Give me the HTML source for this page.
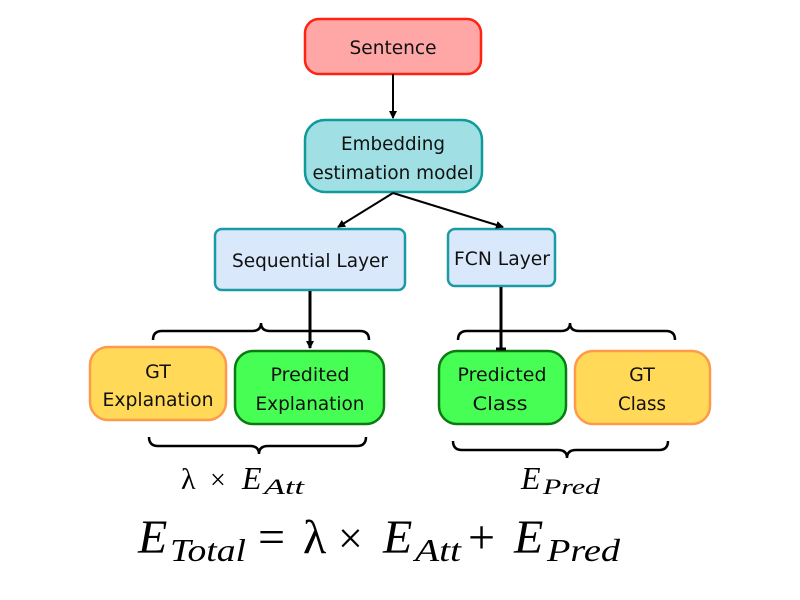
<!DOCTYPE html>
<html><head><style>body{margin:0;background:#fff}svg{display:block}</style></head><body>
<svg width="800" height="600" viewBox="0 0 800 600" xmlns="http://www.w3.org/2000/svg">
<defs><marker id="a" markerWidth="8" markerHeight="8" refX="7" refY="4" orient="auto" markerUnits="userSpaceOnUse"><path d="M0,0 L8,4 L0,8 z" fill="#000"/></marker></defs>
<g font-family="DejaVu Sans, sans-serif" font-size="19" fill="#111" text-anchor="middle">
<rect x="305" y="19" width="176" height="55" rx="14" fill="#ffa6a6" stroke="#f21" stroke-width="2.5"/>
<text x="393" y="54" textLength="87" lengthAdjust="spacingAndGlyphs">Sentence</text>
<rect x="305" y="120" width="177" height="72" rx="20" fill="#a0dfe3" stroke="#119a9a" stroke-width="2.5"/>
<text x="393" y="150" textLength="104" lengthAdjust="spacingAndGlyphs">Embedding</text><text x="393" y="179" textLength="161" lengthAdjust="spacingAndGlyphs">estimation model</text>
<rect x="215" y="229" width="190" height="61" rx="7" fill="#dae8fb" stroke="#1a9aa5" stroke-width="2.5"/>
<text x="310" y="267" textLength="156" lengthAdjust="spacingAndGlyphs">Sequential Layer</text>
<rect x="448" y="229" width="107" height="57" rx="7" fill="#dae8fb" stroke="#1a9aa5" stroke-width="2.5"/>
<text x="502" y="265" textLength="96" lengthAdjust="spacingAndGlyphs">FCN Layer</text>
<rect x="90" y="347" width="136" height="73" rx="18" fill="#ffd957" stroke="#ff9a4a" stroke-width="2.5"/>
<text x="158" y="378">GT</text><text x="158" y="406" textLength="111" lengthAdjust="spacingAndGlyphs">Explanation</text>
<rect x="235" y="351" width="149" height="73" rx="18" fill="#47ff54" stroke="#0b7a12" stroke-width="2.5"/>
<text x="310" y="381" textLength="79" lengthAdjust="spacingAndGlyphs">Predited</text><text x="310" y="410" textLength="109" lengthAdjust="spacingAndGlyphs">Explanation</text>
<rect x="439" y="351" width="127" height="73" rx="18" fill="#47ff54" stroke="#0b7a12" stroke-width="2.5"/>
<text x="502" y="381" textLength="89" lengthAdjust="spacingAndGlyphs">Predicted</text><text x="500" y="410" textLength="55" lengthAdjust="spacingAndGlyphs">Class</text>
<rect x="575" y="351" width="135" height="73" rx="18" fill="#ffd957" stroke="#ff9a4a" stroke-width="2.5"/>
<text x="642" y="381">GT</text><text x="642" y="410" textLength="48" lengthAdjust="spacingAndGlyphs">Class</text>
</g>
<g stroke="#000" stroke-width="2" fill="none">
<line x1="393" y1="74" x2="393" y2="118" marker-end="url(#a)"/>
<line x1="393" y1="193" x2="338" y2="227" marker-end="url(#a)"/>
<line x1="393" y1="193" x2="503" y2="227" marker-end="url(#a)"/>
<line x1="310" y1="291" x2="310" y2="348" stroke-width="3" marker-end="url(#a)"/>
<line x1="501" y1="287" x2="501" y2="350" stroke-width="3"/>
<line x1="496" y1="349" x2="506" y2="349" stroke-width="3"/>
<g stroke-width="2.5">
<path d="M153,340 Q153,331 162,331 L252,331 Q261,331 261,323 Q261,331 270,331 L360,331 Q369,331 369,340"/>
<path d="M458,340 Q458,331 467,331 L561,331 Q570,331 570,323 Q570,331 579,331 L666,331 Q675,331 675,340"/>
<path d="M149,437 Q149,446 158,446 L250,446 Q259,446 259,454 Q259,446 268,446 L357,446 Q366,446 366,437"/>
<path d="M453,441 Q453,450 462,450 L558,450 Q567,450 567,458 Q567,450 576,450 L659,450 Q668,450 668,441"/>
</g></g>
<g font-family="Liberation Serif, serif" fill="#000">
<text x="181" y="489" font-size="30">λ</text>
<text x="210" y="489" font-size="28">×</text>
<text x="242" y="489" font-size="32" font-style="italic">E</text>
<text x="264" y="494" font-size="22" font-style="italic" textLength="40" lengthAdjust="spacingAndGlyphs">Att</text>
<text x="521" y="489" font-size="32" font-style="italic">E</text>
<text x="543" y="494" font-size="22" font-style="italic" textLength="57" lengthAdjust="spacingAndGlyphs">Pred</text>
<text x="138" y="553" font-size="48" font-style="italic">E</text>
<text x="170" y="561" font-size="32" font-style="italic" textLength="76" lengthAdjust="spacingAndGlyphs">Total</text>
<text x="258" y="553" font-size="48">=</text>
<text x="303" y="553" font-size="48">λ</text>
<text x="338" y="553" font-size="44">×</text>
<text x="383" y="553" font-size="48" font-style="italic">E</text>
<text x="415" y="561" font-size="32" font-style="italic" textLength="46" lengthAdjust="spacingAndGlyphs">Att</text>
<text x="468" y="553" font-size="48">+</text>
<text x="514" y="553" font-size="48" font-style="italic">E</text>
<text x="547" y="561" font-size="32" font-style="italic" textLength="73" lengthAdjust="spacingAndGlyphs">Pred</text>
</g>
</svg>
</body></html>
